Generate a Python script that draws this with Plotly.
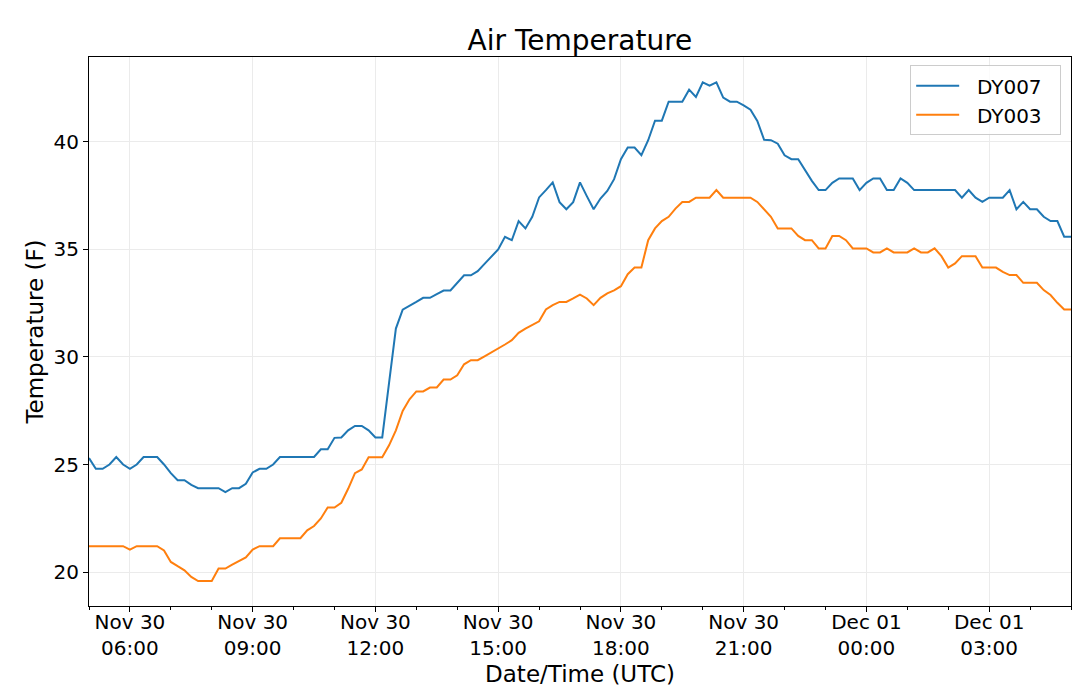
import plotly.graph_objects as go
import pandas as pd

# 10-minute readings, Nov 30 05:00 UTC -> Dec 01 05:00 UTC
start_time = '2019-11-30 05:00'
n_samples = 145
times = pd.date_range(start_time, periods=n_samples, freq='10min')

dy007 = [
    25.3, 24.8, 24.8, 25.0, 25.35, 25.0, 24.8, 25.0, 25.35, 25.35,
    25.35, 25.0, 24.6, 24.27, 24.27, 24.05, 23.9, 23.9, 23.9, 23.9,
    23.72, 23.9, 23.9, 24.1, 24.63, 24.8, 24.8, 25.0, 25.35, 25.35,
    25.35, 25.35, 25.35, 25.35, 25.71, 25.71, 26.24, 26.26, 26.59, 26.79,
    26.79, 26.59, 26.26, 26.26, 28.8, 31.32, 32.2, 32.37, 32.56, 32.75,
    32.75, 32.92, 33.09, 33.09, 33.45, 33.8, 33.8, 33.99, 34.33, 34.66,
    35.0, 35.59, 35.43, 36.32, 35.98, 36.52, 37.42, 37.76, 38.12, 37.2,
    36.87, 37.2, 38.12, 37.48, 36.87, 37.37, 37.72, 38.27, 39.2, 39.74,
    39.74, 39.38, 40.08, 40.99, 40.99, 41.87, 41.87, 41.87, 42.43, 42.09,
    42.77, 42.62, 42.77, 42.06, 41.87, 41.87, 41.7, 41.5, 40.98, 40.1,
    40.08, 39.92, 39.38, 39.2, 39.2, 38.68, 38.19, 37.76, 37.76, 38.1,
    38.3, 38.3, 38.3, 37.76, 38.1, 38.3, 38.3, 37.76, 37.76, 38.3,
    38.1, 37.76, 37.76, 37.76, 37.76, 37.76, 37.76, 37.76, 37.41, 37.76,
    37.41, 37.21, 37.41, 37.41, 37.41, 37.76, 36.87, 37.21, 36.87, 36.87,
    36.52, 36.32, 36.32, 35.59, 35.59,
]

dy003 = [
    21.2, 21.2, 21.2, 21.2, 21.2, 21.2, 21.04, 21.2, 21.2, 21.2,
    21.2, 21.0, 20.47, 20.27, 20.08, 19.77, 19.58, 19.58, 19.58, 20.16,
    20.16, 20.34, 20.51, 20.68, 21.04, 21.2, 21.2, 21.2, 21.57, 21.57,
    21.57, 21.57, 21.94, 22.14, 22.49, 23.0, 23.0, 23.22, 23.87, 24.6,
    24.77, 25.34, 25.34, 25.34, 25.89, 26.59, 27.49, 28.03, 28.4, 28.4,
    28.58, 28.58, 28.95, 28.95, 29.15, 29.66, 29.85, 29.85, 30.03, 30.2,
    30.39, 30.58, 30.78, 31.12, 31.32, 31.51, 31.66, 32.21, 32.41, 32.56,
    32.56, 32.72, 32.9, 32.72, 32.41, 32.75, 32.96, 33.1, 33.29, 33.85,
    34.16, 34.16, 35.43, 35.98, 36.32, 36.52, 36.9, 37.21, 37.21, 37.41,
    37.41, 37.41, 37.76, 37.41, 37.41, 37.41, 37.41, 37.41, 37.21, 36.87,
    36.52, 35.98, 35.98, 35.98, 35.63, 35.43, 35.43, 35.05, 35.05, 35.63,
    35.63, 35.43, 35.05, 35.05, 35.05, 34.86, 34.86, 35.05, 34.86, 34.86,
    34.86, 35.05, 34.86, 34.86, 35.05, 34.69, 34.16, 34.35, 34.69, 34.69,
    34.69, 34.16, 34.16, 34.16, 33.96, 33.81, 33.81, 33.45, 33.45, 33.45,
    33.11, 32.88, 32.52, 32.21, 32.21,
]

tick_times = ['2019-11-30 06:00', '2019-11-30 09:00', '2019-11-30 12:00',
              '2019-11-30 15:00', '2019-11-30 18:00', '2019-11-30 21:00',
              '2019-12-01 00:00', '2019-12-01 03:00']
tick_labels = ['Nov 30<br>06:00', 'Nov 30<br>09:00', 'Nov 30<br>12:00',
               'Nov 30<br>15:00', 'Nov 30<br>18:00', 'Nov 30<br>21:00',
               'Dec 01<br>00:00', 'Dec 01<br>03:00']
y_ticks = [20, 25, 30, 35, 40]

FONT = 'DejaVu Sans'
PAD = '\u00a0\u00a0'  # a little breathing room round the legend labels

fig = go.Figure()
fig.add_trace(go.Scatter(x=times, y=dy007, mode='lines', name=PAD + 'DY007' + PAD,
                         line=dict(color='#1f77b4', width=2)))
fig.add_trace(go.Scatter(x=times, y=dy003, mode='lines', name=PAD + 'DY003' + PAD,
                         line=dict(color='#ff7f0e', width=2)))

axis_common = dict(
    showline=True, linecolor='black', linewidth=1, mirror=True,
    ticks='outside', ticklen=5, tickcolor='black',
    showgrid=True, gridcolor='#ebebeb', gridwidth=1,
    zeroline=False, automargin=False,
    tickfont=dict(family=FONT, size=20, color='black'),
)

fig.update_layout(
    width=1080, height=697,
    paper_bgcolor='white', plot_bgcolor='white',
    margin=dict(l=89, r=9, t=57, b=91),
    font=dict(family=FONT, color='black'),
    title=dict(text='Air Temperature', x=0.537, xanchor='center',
               y=1 - 40 / 697, yanchor='middle',
               font=dict(family=FONT, size=28, color='black')),
    legend=dict(x=0.99, y=0.985, xanchor='right', yanchor='top',
                bgcolor='rgba(255,255,255,0.8)', bordercolor='#cccccc', borderwidth=1,
                itemwidth=43,
                font=dict(family=FONT, size=20, color='black')),
    xaxis=dict(
        axis_common,
        range=[times[0], times[-1]],
        tickmode='array', tickvals=tick_times, ticktext=tick_labels,
        ticklabelstandoff=-7,
        minor=dict(ticks='outside', ticklen=3, tickcolor='black',
                   dtick=3600000, tick0=start_time, showgrid=False),
        title=dict(text='Date/Time (UTC)', standoff=6,
                   font=dict(family=FONT, size=23, color='black')),
    ),
    yaxis=dict(
        axis_common,
        range=[18.42, 43.95],
        tickmode='array', tickvals=y_ticks,
        title=dict(text='Temperature (F)', standoff=3,
                   font=dict(family=FONT, size=23, color='black')),
    ),
)

# drop the page's default body margin so the figure sits at the window's corner
fig.write_html('out.html', config={'displayModeBar': False},
               post_script="document.body.style.margin='0';")
